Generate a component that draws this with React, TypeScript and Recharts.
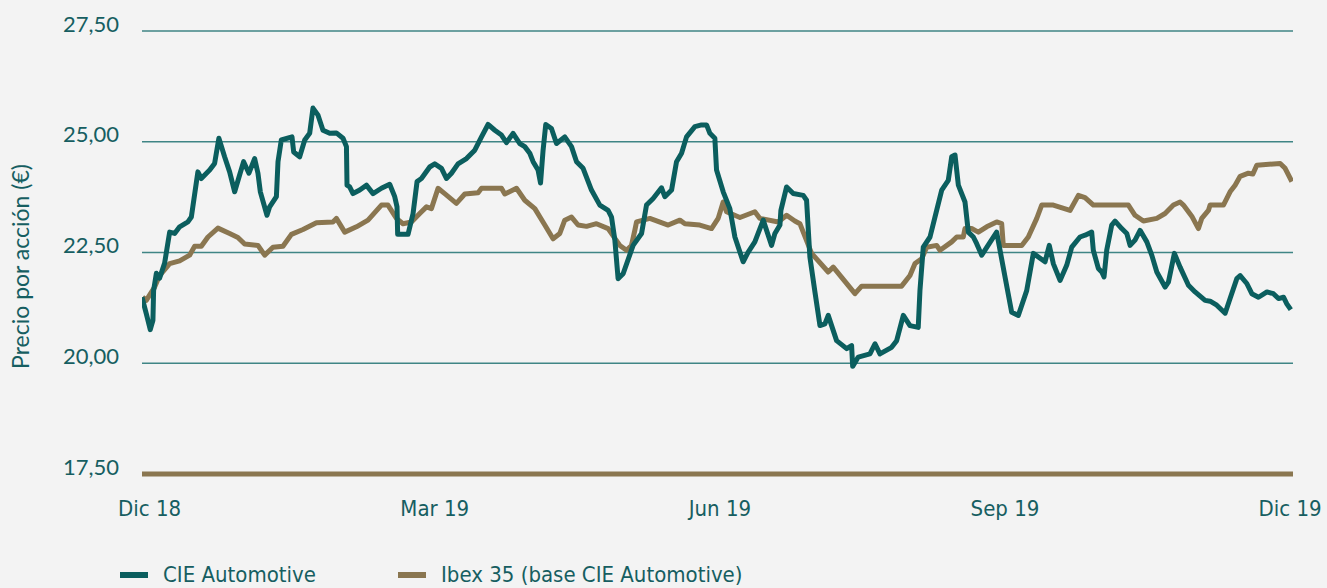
import { LineChart, Line, XAxis, YAxis, CartesianGrid, Label } from "recharts"

// month offsets from the "Dic 18" tick, and share prices
const cieMonths = [
  -0.08, -0.035, 0.007, 0.035, 0.042, 0.071, 0.105, 0.158, 0.211, 0.263,
  0.316, 0.403, 0.439, 0.508, 0.544, 0.632, 0.684, 0.729, 0.789, 0.842,
  0.895, 0.947, 0.989, 1.045, 1.105, 1.14, 1.165, 1.235, 1.263, 1.334,
  1.351, 1.386, 1.498, 1.516, 1.579, 1.632, 1.684, 1.719, 1.772, 1.824,
  1.895, 1.965, 2.035, 2.071, 2.077, 2.105, 2.14, 2.211, 2.281, 2.351,
  2.439, 2.526, 2.579, 2.603, 2.61, 2.719, 2.772, 2.814, 2.86, 2.947,
  3.0, 3.071, 3.123, 3.176, 3.245, 3.334, 3.421, 3.492, 3.561, 3.632,
  3.702, 3.755, 3.824, 3.895, 3.947, 4.0, 4.035, 4.087, 4.113, 4.14,
  4.168, 4.228, 4.281, 4.368, 4.439, 4.492, 4.561, 4.649, 4.737, 4.824,
  4.86, 4.895, 4.929, 4.982, 5.087, 5.176, 5.228, 5.298, 5.386, 5.421,
  5.492, 5.544, 5.597, 5.649, 5.737, 5.807, 5.86, 5.895, 5.947, 5.965,
  6.035, 6.105, 6.158, 6.245, 6.298, 6.368, 6.456, 6.544, 6.579, 6.632,
  6.642, 6.702, 6.772, 6.877, 6.912, 6.947, 7.0, 7.053, 7.105, 7.14,
  7.228, 7.334, 7.386, 7.397, 7.456, 7.579, 7.632, 7.684, 7.807, 7.86,
  7.93, 8.0, 8.087, 8.105, 8.14, 8.211, 8.263, 8.334, 8.403, 8.439,
  8.474, 8.509, 8.579, 8.614, 8.667, 8.702, 8.755, 8.912, 9.0, 9.07,
  9.14, 9.228, 9.298, 9.421, 9.466, 9.508, 9.579, 9.649, 9.702, 9.789,
  9.842, 9.912, 9.929, 9.982, 10.018, 10.042, 10.07, 10.123, 10.158, 10.228,
  10.281, 10.316, 10.368, 10.421, 10.492, 10.544, 10.597, 10.684, 10.719, 10.782,
  10.842, 10.93, 11.0, 11.105, 11.158, 11.228, 11.316, 11.368, 11.439, 11.474,
  11.544, 11.597, 11.667, 11.756, 11.824, 11.877, 11.93, 11.965, 12.007,
]

const ciePrice = [
  21.49, 21.12, 20.76, 20.97, 21.64, 22.03, 21.92, 22.26, 22.96, 22.93,
  23.08, 23.19, 23.3, 24.32, 24.17, 24.36, 24.51, 25.08, 24.66, 24.32,
  23.87, 24.25, 24.55, 24.29, 24.62, 24.29, 23.87, 23.34, 23.53, 23.76,
  24.55, 25.04, 25.11, 24.77, 24.66, 25.04, 25.19, 25.76, 25.6, 25.26,
  25.19, 25.2, 25.08, 24.89, 24.02, 23.98, 23.83, 23.91, 24.02, 23.83,
  23.95, 24.04, 23.76, 23.53, 22.91, 22.91, 23.38, 24.1, 24.17, 24.43,
  24.5, 24.4, 24.17, 24.29, 24.5, 24.62, 24.81, 25.11, 25.39, 25.26,
  25.15, 24.98, 25.19, 24.96, 24.89, 24.74, 24.55, 24.36, 24.07, 24.81,
  25.39, 25.3, 24.96, 25.11, 24.89, 24.55, 24.4, 23.91, 23.57, 23.45,
  23.3, 22.78, 21.91, 22.02, 22.66, 22.93, 23.57, 23.72, 23.96, 23.76,
  23.91, 24.55, 24.74, 25.11, 25.34, 25.38, 25.38, 25.19, 25.08, 24.36,
  23.87, 23.49, 22.85, 22.29, 22.51, 22.74, 23.23, 22.66, 22.93, 23.12,
  23.45, 23.98, 23.83, 23.79, 23.68, 22.4, 21.61, 20.85, 20.89, 21.08,
  20.51, 20.33, 20.4, 19.93, 20.14, 20.21, 20.44, 20.21, 20.36, 20.51,
  21.08, 20.85, 20.81, 21.64, 22.62, 22.85, 23.3, 23.91, 24.13, 24.66,
  24.7, 24.02, 23.64, 22.96, 22.85, 22.7, 22.44, 22.96, 21.95, 21.15,
  21.08, 21.64, 22.48, 22.29, 22.66, 22.25, 21.87, 22.21, 22.62, 22.85,
  22.89, 22.96, 22.55, 22.14, 22.06, 21.95, 22.55, 23.12, 23.21, 23.04,
  22.93, 22.66, 22.78, 23.0, 22.74, 22.44, 22.06, 21.72, 21.83, 22.48,
  22.17, 21.76, 21.61, 21.42, 21.4, 21.31, 21.13, 21.46, 21.91, 21.98,
  21.8, 21.57, 21.49, 21.61, 21.57, 21.46, 21.49, 21.34, 21.21,
]

const ibexMonths = [
  -0.074, -0.035, 0.053, 0.105, 0.211, 0.316, 0.421, 0.474, 0.544, 0.614,
  0.719, 0.842, 0.929, 1.0, 1.14, 1.211, 1.298, 1.403, 1.492, 1.614,
  1.755, 1.929, 1.965, 2.053, 2.176, 2.298, 2.439, 2.508, 2.597, 2.666,
  2.755, 2.842, 2.913, 2.965, 3.035, 3.105, 3.228, 3.316, 3.456, 3.492,
  3.702, 3.737, 3.86, 3.947, 4.053, 4.158, 4.245, 4.316, 4.368, 4.439,
  4.508, 4.597, 4.702, 4.824, 4.947, 5.018, 5.07, 5.105, 5.123, 5.263,
  5.456, 5.579, 5.632, 5.789, 5.912, 5.982, 6.035, 6.07, 6.211, 6.368,
  6.421, 6.614, 6.702, 6.789, 6.842, 6.965, 7.14, 7.193, 7.421, 7.492,
  7.912, 8.0, 8.053, 8.123, 8.176, 8.281, 8.316, 8.439, 8.492, 8.561,
  8.579, 8.649, 8.719, 8.807, 8.912, 8.965, 8.982, 9.176, 9.245, 9.334,
  9.386, 9.508, 9.684, 9.772, 9.842, 9.93, 10.298, 10.368, 10.456, 10.597,
  10.684, 10.772, 10.842, 10.877, 10.965, 11.035, 11.07, 11.14, 11.158, 11.298,
  11.368, 11.421, 11.474, 11.561, 11.608, 11.649, 11.895, 11.947, 12.018,
]

const ibexPrice = [
  21.49, 21.42, 21.72, 21.98, 22.25, 22.31, 22.44, 22.64, 22.64, 22.85,
  23.05, 22.93, 22.84, 22.69, 22.66, 22.44, 22.62, 22.64, 22.91, 23.02,
  23.17, 23.19, 23.27, 22.96, 23.08, 23.23, 23.57, 23.57, 23.27, 23.15,
  23.19, 23.38, 23.53, 23.49, 23.95, 23.83, 23.61, 23.82, 23.85, 23.95,
  23.95, 23.82, 23.95, 23.68, 23.49, 23.12, 22.81, 22.93, 23.23, 23.3,
  23.12, 23.09, 23.15, 23.04, 22.66, 22.55, 22.66, 23.0, 23.19, 23.27,
  23.12, 23.23, 23.15, 23.12, 23.04, 23.27, 23.64, 23.42, 23.29, 23.42,
  23.27, 23.19, 23.34, 23.21, 23.15, 22.48, 22.06, 22.17, 21.57, 21.74,
  21.74, 21.98, 22.25, 22.36, 22.62, 22.66, 22.55, 22.74, 22.85, 22.85,
  23.04, 23.04, 22.96, 23.08, 23.19, 23.15, 22.66, 22.66, 22.85, 23.27,
  23.57, 23.57, 23.45, 23.79, 23.74, 23.57, 23.57, 23.34, 23.21, 23.27,
  23.38, 23.57, 23.64, 23.57, 23.32, 23.04, 23.27, 23.45, 23.57, 23.57,
  23.87, 24.02, 24.22, 24.29, 24.27, 24.47, 24.51, 24.4, 24.1,
]

const tickMonths = [0, 3, 6, 9, 12]
const tickLabels = ["Dic 18", "Mar 19", "Jun 19", "Sep 19", "Dic 19"]
const priceTicks = [17.5, 20, 22.5, 25, 27.5]
const seriesNames = ["CIE Automotive", "Ibex 35 (base CIE Automotive)"]

const cieData = cieMonths.map((m, i) => ({ m, price: ciePrice[i] }))
const ibexData = ibexMonths.map((m, i) => ({ m, price: ibexPrice[i] }))

const TEAL = "#0b5e5e"
const BROWN = "#8a7650"
const TEXT = "#165e61"
const NARROW = '"Liberation Sans Narrow", "DejaVu Sans Condensed", sans-serif'
const ROUND = 'Lato, "Open Sans", sans-serif'

function XTick(props: any) {
  const { x, y, payload } = props
  const idx = tickMonths.indexOf(payload.value)
  return (
    <text x={x} y={y + 32} textAnchor="middle" dominantBaseline="central" fill={TEXT} fontFamily={NARROW} fontSize={22}>
      {tickLabels[idx]}
    </text>
  )
}

function YTick(props: any) {
  const { x, y, payload } = props
  return (
    <text x={x} y={y - 8} textAnchor="end" dominantBaseline="central" fill={TEXT} fontFamily={ROUND} fontSize={22}>
      {payload.value.toFixed(2).replace(".", ",")}
    </text>
  )
}

function YTitle(props: any) {
  const vb = props.viewBox || { y: 31, height: 443 }
  const cy = vb.y + vb.height / 2 + 14
  return (
    <text
      transform={`translate(20, ${cy}) rotate(-90)`}
      textAnchor="middle"
      dominantBaseline="central"
      fill={TEXT}
      fontFamily={ROUND}
      fontSize={23}
    >
      Precio por acción (€)
    </text>
  )
}

export default function App() {
  const colors = [TEAL, BROWN]
  return (
    <div style={{ position: "absolute", left: 0, top: 0, width: 1327, height: 588, background: "#f3f3f3", overflow: "hidden" }}>
      <LineChart width={1327} height={588} margin={{ top: 31, right: 34, bottom: 0, left: 0 }}>
        <CartesianGrid vertical={false} stroke="#3f8585" strokeWidth={1.3} />
        <XAxis
          type="number"
          dataKey="m"
          domain={[-0.08, 12.03]}
          ticks={tickMonths}
          tick={<XTick />}
          tickLine={false}
          tickSize={0}
          height={114}
          axisLine={{ stroke: BROWN, strokeWidth: 5 }}
          allowDataOverflow
        />
        <YAxis
          type="number"
          domain={[17.5, 27.5]}
          ticks={priceTicks}
          tick={<YTick />}
          tickLine={false}
          tickSize={0}
          tickMargin={23}
          width={142}
          axisLine={false}
        >
          <Label content={<YTitle />} />
        </YAxis>
        <Line data={ibexData} dataKey="price" type="linear" stroke={BROWN} strokeWidth={5} dot={false} strokeLinejoin="round" isAnimationActive={false} />
        <Line data={cieData} dataKey="price" type="linear" stroke={TEAL} strokeWidth={5} dot={false} strokeLinejoin="round" isAnimationActive={false} />
      </LineChart>
      <div style={{ position: "absolute", left: 120, top: 562, display: "flex", alignItems: "center", fontFamily: NARROW, fontSize: 22, color: TEXT }}>
        {seriesNames.map((name, i) => (
          <div key={name} style={{ display: "flex", alignItems: "center", width: i === 0 ? 278 : "auto" }}>
            <span style={{ display: "inline-block", width: 28, height: 6, background: colors[i], marginRight: 15 }} />
            <span>{name}</span>
          </div>
        ))}
      </div>
    </div>
  )
}
